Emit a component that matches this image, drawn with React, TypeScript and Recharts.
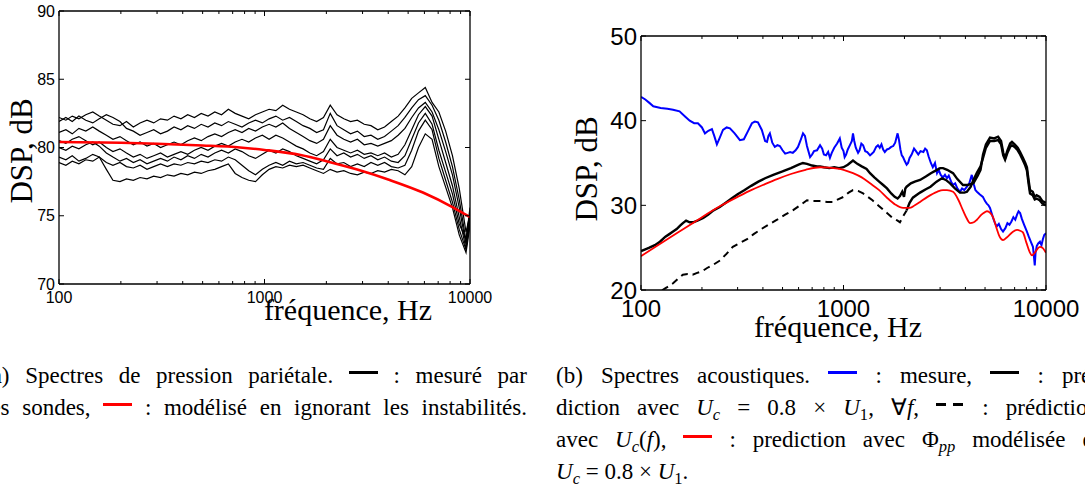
import React from 'react';
import { LineChart, Line, XAxis, YAxis } from 'recharts';

// ---------- (a) wall-pressure spectra ----------
const FREQ_A = [
  100, 108, 116, 125, 135, 146, 157, 170, 183, 198,
  213, 230, 248, 268, 289, 312, 337, 363, 392, 423,
  456, 492, 531, 573, 618, 667, 720, 777, 838, 904,
  976, 1053, 1136, 1226, 1323, 1428, 1541, 1662, 1794, 1936,
  2089, 2254, 2432, 2624, 2832, 3056, 3297, 3558, 3839, 4142,
  4470, 4823, 5204, 5615, 6059, 6538, 7055, 7612, 8214, 8863,
  9564, 10000,
];
const PROBE_1 = [
  82.2, 82.0, 82.3, 82.1, 82.4, 82.6, 82.3, 82.0, 81.7, 81.6,
  81.9, 81.5, 81.8, 82.0, 81.8, 82.1, 82.0, 82.3, 82.1, 82.4,
  82.2, 82.5, 82.3, 82.6, 82.4, 82.8, 82.5, 82.3, 82.1, 82.4,
  82.6, 82.8, 82.7, 83.1, 82.8, 82.6, 82.4, 82.1, 81.9, 82.2,
  83.1, 82.4, 82.1, 81.9, 82.0, 81.7, 81.6, 81.3, 81.5, 81.9,
  82.3, 82.9, 83.6, 84.0, 84.4, 83.3, 82.6, 81.2, 79.4, 77.0,
  73.8, 75.1,
];
const PROBE_2 = [
  81.9, 82.2, 81.9, 82.3, 82.0, 81.8, 82.1, 82.4, 82.2, 81.9,
  81.4, 81.2, 80.9, 81.1, 81.3, 81.0, 81.2, 81.5, 81.3, 81.6,
  81.4, 81.7, 81.5, 81.8, 81.6, 81.9, 81.7, 81.5, 81.8, 82.0,
  81.8, 82.1, 82.3, 82.0, 82.2, 81.9, 81.6, 81.4, 81.1, 81.3,
  82.5, 81.6, 81.3, 81.0, 81.2, 80.8, 80.9, 80.6, 80.8, 81.2,
  81.6, 82.2, 82.9, 83.5, 83.8, 83.1, 82.0, 80.4, 78.6, 76.2,
  73.2, 75.6,
];
const PROBE_3 = [
  81.1, 81.3, 81.0, 81.4, 81.2, 81.5, 81.2, 80.9, 80.6, 80.8,
  80.5, 80.2, 80.4, 80.1, 80.3, 80.0, 80.2, 80.4, 80.2, 80.5,
  80.7, 80.5, 80.8, 81.0, 80.8, 81.1, 81.3, 81.1, 81.4, 81.2,
  81.5, 81.7, 81.5, 81.8, 81.4, 81.1, 80.8, 80.5, 80.3, 80.6,
  81.6, 80.9, 80.6, 80.4, 80.6, 80.2, 80.3, 80.1, 80.3, 80.5,
  80.9, 81.4, 82.2, 82.9, 83.3, 82.6, 81.3, 79.7, 78.0, 75.6,
  72.9, 75.3,
];
const PROBE_4 = [
  80.5, 80.3, 80.6, 80.8, 80.5, 80.2, 80.4, 80.0, 79.7, 79.9,
  79.6, 79.3, 79.5, 79.2, 79.4, 79.6, 79.3, 79.5, 79.7, 79.5,
  79.8, 80.0, 79.8, 80.1, 80.3, 80.1, 80.4, 80.6, 80.4, 80.7,
  80.9, 80.6, 80.9, 80.7, 80.4, 80.1, 79.9, 79.6, 79.4, 79.7,
  80.6, 80.0, 79.8, 79.6, 79.8, 79.5, 79.6, 79.4, 79.6, 79.3,
  79.5, 80.2, 81.3, 82.4, 83.0, 82.3, 80.6, 78.9, 77.2, 74.9,
  72.6, 74.9,
];
const PROBE_5 = [
  80.0, 79.8, 80.1, 79.9, 80.2, 80.4, 80.1, 79.6, 79.3, 79.0,
  79.2, 78.9, 79.1, 78.8, 79.0, 79.2, 79.0, 79.3, 79.1, 79.4,
  79.2, 79.5, 79.3, 79.6, 79.8, 79.6, 79.9, 79.7, 79.4, 79.2,
  79.5, 79.8, 79.6, 79.9, 79.7, 79.4, 79.2, 79.0, 78.8, 79.1,
  79.9, 79.4, 79.6, 79.3, 79.5, 79.2, 79.4, 79.1, 79.3, 79.0,
  78.9, 79.4, 80.6, 81.8, 82.5, 81.7, 79.8, 78.2, 76.6, 74.4,
  73.3, 75.2,
];
const PROBE_6 = [
  79.3, 79.1, 79.4, 79.0, 79.2, 79.5, 79.3, 78.9, 78.7, 78.9,
  78.6, 78.5, 78.7, 78.4, 78.6, 78.8, 78.6, 78.8, 78.7, 78.9,
  78.8, 79.0, 78.9, 79.1, 79.0, 79.3, 79.1, 78.7, 78.3, 78.0,
  78.4, 78.7, 78.9, 78.7, 79.0, 78.8, 78.9, 78.7, 78.5, 78.4,
  79.2, 78.8, 78.9, 78.6, 78.8, 78.6, 78.9, 78.7, 78.9, 78.6,
  78.5, 78.7, 79.8, 81.2, 82.0, 81.3, 79.2, 77.6, 76.0, 74.0,
  72.5, 74.6,
];
const PROBE_7 = [
  78.9, 78.7, 79.0, 78.8, 79.1, 79.0, 79.3, 78.4, 77.6, 77.5,
  77.7, 77.6, 77.8, 77.7, 77.9, 77.8, 78.0, 77.9, 78.1, 78.0,
  78.2, 78.1, 78.3, 78.4, 78.6, 78.8, 78.1, 77.8, 77.6, 77.5,
  78.0, 78.4, 78.6, 78.5, 78.7, 78.6, 78.7, 78.5, 78.3, 78.1,
  78.4, 78.2, 78.3, 78.1, 78.0, 78.2, 78.1, 78.3, 78.2, 78.4,
  78.3, 78.0, 78.6, 80.0, 81.0, 80.6, 78.6, 77.1, 75.6, 73.6,
  72.3, 74.3,
];
const PROBES = [PROBE_1, PROBE_2, PROBE_3, PROBE_4, PROBE_5, PROBE_6, PROBE_7];

const MODEL_A: [number, number][] = [
  [100, 80.4], [200, 80.35], [300, 80.28], [500, 80.15], [760, 80.0], [1000, 79.82],
  [1500, 79.45], [2000, 79.0], [2800, 78.4], [4100, 77.6], [5900, 76.7], [8300, 75.6], [10000, 74.9],
];

// ---------- (b) acoustic spectra ----------
const MEASURED_B: [number, number][] = [
  [100, 42.8], [105, 42.5], [110, 42.1], [115, 41.7], [125, 41.5], [135, 41.4], [144, 41.3], [155, 41.1],
  [165, 40.5], [174, 40.0], [183, 39.7], [191, 39.7], [200, 39.2], [207, 38.5], [215, 38.8], [224, 39.0],
  [230, 38.2], [237, 37.2], [245, 38.0], [254, 38.9], [265, 39.2], [275, 39.1], [290, 38.5], [308, 37.7],
  [322, 37.8], [338, 38.8], [353, 39.7], [365, 39.9], [378, 39.8], [395, 38.9], [410, 37.6], [419, 37.5],
  [426, 38.2], [433, 38.5], [445, 37.4], [458, 36.9], [472, 37.1], [485, 37.0], [500, 36.5], [515, 36.1],
  [530, 36.2], [545, 36.3], [562, 36.2], [580, 36.5], [596, 36.9], [612, 37.6], [631, 38.5], [645, 38.2],
  [660, 37.0], [684, 35.7], [700, 36.0], [715, 36.4], [740, 36.5], [766, 37.1], [785, 36.7], [800, 36.0],
  [820, 35.9], [840, 36.3], [857, 35.6], [875, 36.2], [900, 36.8], [930, 37.3], [959, 37.9], [980, 36.8],
  [1000, 36.4], [1013, 35.7], [1030, 36.0], [1050, 36.6], [1080, 37.2], [1100, 37.6], [1114, 38.5], [1130, 37.6],
  [1150, 36.8], [1180, 36.2], [1200, 36.5], [1225, 37.3], [1250, 37.1], [1280, 36.4], [1310, 36.3], [1352, 35.9],
  [1380, 36.1], [1410, 36.3], [1450, 36.9], [1480, 37.1], [1510, 36.8], [1540, 37.2], [1570, 36.6], [1600, 36.3],
  [1640, 36.6], [1680, 36.7], [1720, 36.9], [1760, 37.0], [1800, 37.4], [1850, 38.5], [1880, 37.7], [1910, 36.6],
  [1940, 35.9], [1968, 35.7], [2010, 35.2], [2050, 34.8], [2083, 35.0], [2120, 35.6], [2170, 36.0], [2230, 36.7],
  [2280, 36.4], [2340, 36.0], [2400, 36.4], [2480, 36.3], [2530, 36.7], [2580, 36.5], [2630, 35.8], [2700, 35.0],
  [2760, 34.5], [2830, 35.0], [2896, 33.8], [2950, 34.2], [3020, 33.6], [3100, 33.3], [3170, 33.6], [3243, 33.2],
  [3310, 33.5], [3400, 32.8], [3475, 32.4], [3560, 32.6], [3650, 32.0], [3760, 31.6], [3850, 32.0], [3950, 31.8],
  [4070, 32.2], [4180, 32.6], [4300, 33.6], [4400, 32.5], [4480, 31.8], [4560, 31.6], [4700, 31.3], [4880, 31.0],
  [5000, 30.5], [5100, 30.2], [5200, 30.0], [5290, 29.7], [5400, 29.0], [5500, 28.4], [5600, 27.9], [5710, 27.5],
  [5850, 27.8], [6000, 27.2], [6134, 26.9], [6300, 27.3], [6450, 27.9], [6600, 27.7], [6750, 28.1], [6900, 28.6],
  [7050, 28.3], [7194, 28.9], [7320, 29.3], [7450, 29.1], [7600, 28.4], [7800, 27.7], [8050, 26.9], [8250, 26.2],
  [8450, 25.6], [8620, 25.1], [8700, 24.2], [8800, 22.9], [8880, 24.4], [9000, 25.2], [9150, 25.5], [9335, 25.7],
  [9500, 25.3], [9650, 26.0], [9800, 26.5], [10000, 26.7],
];

const PREDICTION_B: [number, number][] = [
  [100, 24.6], [105, 24.8], [110, 25.0], [117, 25.3], [124, 25.7], [132, 26.3], [138, 26.6], [144, 26.9],
  [150, 27.2], [156, 27.6], [161, 27.9], [167, 28.2], [174, 28.0], [181, 28.0], [190, 28.2], [203, 28.5],
  [215, 28.9], [228, 29.4], [245, 29.8], [262, 30.3], [280, 30.8], [300, 31.3], [325, 31.8], [350, 32.3],
  [380, 32.8], [410, 33.2], [450, 33.6], [500, 34.0], [550, 34.4], [600, 34.8], [630, 35.0], [660, 34.9],
  [700, 34.7], [740, 34.6], [766, 34.6], [800, 34.5], [850, 34.4], [900, 34.5], [950, 34.4], [1000, 34.5],
  [1050, 34.8], [1114, 35.3], [1170, 34.9], [1230, 34.6], [1300, 34.3], [1352, 33.8], [1420, 33.3], [1500, 32.8],
  [1570, 32.4], [1640, 32.0], [1720, 31.4], [1790, 31.0], [1850, 30.8], [1900, 31.1], [1950, 31.6], [1990, 31.0],
  [2020, 32.0], [2050, 32.2], [2150, 32.6], [2250, 32.8], [2388, 33.0], [2550, 33.4], [2700, 33.8], [2850, 34.1],
  [3000, 34.4], [3100, 34.4], [3250, 34.2], [3475, 33.8], [3650, 33.1], [3890, 32.4], [4100, 32.4], [4380, 32.6],
  [4600, 33.5], [4750, 34.2], [4887, 36.0], [5050, 37.2], [5290, 38.0], [5550, 37.9], [5800, 38.1], [6000, 37.6],
  [6150, 36.2], [6280, 35.6], [6450, 36.5], [6650, 37.3], [6790, 37.5], [7000, 37.2], [7250, 36.8], [7450, 36.3],
  [7700, 35.6], [7900, 35.0], [8050, 34.5], [8200, 33.0], [8340, 31.8], [8600, 31.6], [8800, 31.0], [8990, 31.2],
  [9300, 31.0], [9600, 30.5], [10000, 30.3],
];

const PREDICTION_UCF_LOW: [number, number][] = [
  [100, 18.6], [112, 19.2], [124, 19.8], [134, 20.3], [144, 20.8], [152, 21.3], [161, 21.8], [170, 21.9],
  [180, 21.8], [188, 22.0], [200, 22.2], [212, 22.6], [228, 23.0], [246, 23.5], [265, 24.3], [284, 25.1],
  [310, 25.6], [334, 26.0], [360, 26.6], [387, 27.1], [425, 27.7], [470, 28.3], [515, 28.9], [562, 29.4],
  [610, 30.0], [660, 30.6], [710, 30.5], [766, 30.5], [830, 30.4], [887, 30.4], [940, 30.7], [1000, 31.0],
  [1060, 31.5], [1114, 31.8], [1180, 31.7], [1250, 31.4], [1320, 31.0], [1390, 30.6], [1500, 29.9], [1640, 29.1],
  [1750, 28.5], [1850, 28.2], [1900, 28.0], [1980, 28.8], [2050, 29.4],
];

const PREDICTION_UCF_HIGH: [number, number][] = [
  [2050, 29.4], [2120, 30.3], [2200, 30.9], [2388, 31.5], [2550, 31.9], [2690, 32.2], [2880, 32.8], [3060, 33.2],
  [3200, 33.0], [3360, 32.6], [3550, 32.0], [3760, 31.5], [3950, 31.5], [4070, 31.6], [4250, 32.2], [4380, 33.0],
  [4550, 33.8], [4750, 34.6], [4887, 35.6], [5050, 36.8], [5290, 37.6], [5550, 37.6], [5800, 37.7], [6000, 37.2],
  [6150, 35.9], [6280, 35.4], [6450, 36.2], [6650, 36.9], [6790, 37.1], [7000, 36.9], [7250, 36.5], [7450, 36.0],
  [7700, 35.3], [7900, 34.7], [8050, 34.1], [8200, 32.6], [8340, 31.4], [8600, 31.2], [8800, 30.7], [8990, 30.8],
  [9300, 30.6], [9600, 30.2], [10000, 30.0],
];

const MODEL_B: [number, number][] = [
  [100, 24.0], [125, 25.5], [150, 26.7], [175, 27.7], [200, 28.6], [250, 30.0], [300, 31.0], [350, 31.8],
  [400, 32.4], [470, 33.1], [550, 33.7], [650, 34.2], [766, 34.5], [850, 34.45], [1000, 34.2], [1114, 33.8],
  [1230, 33.3], [1352, 32.6], [1500, 31.8], [1640, 30.9], [1800, 30.1], [1968, 29.7], [2130, 29.7], [2250, 30.0],
  [2388, 30.4], [2600, 31.0], [2896, 31.6], [3100, 31.8], [3243, 31.8], [3475, 31.6], [3700, 30.6], [3890, 29.4],
  [4050, 28.5], [4217, 27.9], [4400, 28.0], [4560, 28.3], [4800, 28.9], [5000, 29.2], [5113, 29.3], [5300, 29.1],
  [5473, 28.6], [5700, 27.3], [5900, 26.3], [6134, 25.9], [6400, 26.2], [6800, 26.8], [7194, 27.1], [7450, 27.0],
  [7691, 26.8], [8000, 25.6], [8300, 24.5], [8524, 24.1], [8800, 24.4], [9100, 24.9], [9335, 25.1], [9600, 25.0],
  [10000, 24.4],
];

// ---------- ticks ----------
const LOG_TICKS = [100, 200, 300, 400, 500, 600, 700, 800, 900, 1000, 2000, 3000, 4000, 5000, 6000, 7000, 8000, 9000, 10000];
const MAJOR_X = [100, 1000, 10000];
const Y_TICKS_A = [70, 75, 80, 85, 90];
const Y_TICKS_B = [20, 30, 40, 50];

const SANS = '"Liberation Sans", Arial, Helvetica, sans-serif';
const SERIF = '"Liberation Serif", "Times New Roman", serif';

const toRows = (pairs: [number, number][]) => pairs.map(([f, v]) => ({ f, v }));

const xTick = (dir: number, fontSize: number, labelDy: number, showLabel: boolean) => (props: any) => {
  const { x, y, payload } = props;
  const major = MAJOR_X.includes(payload.value);
  const len = major ? 5 : 3;
  return (
    <g>
      <line x1={x} x2={x} y1={y} y2={y - dir * len} stroke="#000" strokeWidth={1} />
      {showLabel && major ? (
        <text x={x} y={y + labelDy} textAnchor="middle" dominantBaseline="central" fontFamily={SANS} fontSize={fontSize} fill="#000">
          {payload.value}
        </text>
      ) : null}
    </g>
  );
};

const yTick = (dir: number, fontSize: number, showLabel: boolean) => (props: any) => {
  const { x, y, payload } = props;
  return (
    <g>
      <line x1={x} x2={x + dir * 5} y1={y} y2={y} stroke="#000" strokeWidth={1} />
      {showLabel ? (
        <text x={x - 4} y={y} textAnchor="end" dominantBaseline="central" fontFamily={SANS} fontSize={fontSize} fill="#000">
          {payload.value}
        </text>
      ) : null}
    </g>
  );
};

const AXIS_LINE = { stroke: '#000', strokeWidth: 1.3 };

function ChartA() {
  return (
    <LineChart width={540} height={340} margin={{ top: 10, left: 58, right: 69, bottom: 55 }}>
      <XAxis dataKey="f" type="number" scale="log" domain={[100, 10000]} allowDataOverflow ticks={LOG_TICKS} interval={0}
        height={1} tickSize={0} tickMargin={0} tickLine={false} axisLine={AXIS_LINE} tick={xTick(1, 16, 13, true)} />
      <XAxis xAxisId="t" orientation="top" dataKey="f" type="number" scale="log" domain={[100, 10000]} allowDataOverflow ticks={LOG_TICKS} interval={0}
        height={1} tickSize={0} tickMargin={0} tickLine={false} axisLine={AXIS_LINE} tick={xTick(-1, 16, 0, false)} />
      <YAxis type="number" domain={[70, 90]} allowDataOverflow ticks={Y_TICKS_A} interval={0}
        width={1} tickSize={0} tickMargin={0} tickLine={false} axisLine={AXIS_LINE} tick={yTick(1, 16, true)} />
      <YAxis yAxisId="r" orientation="right" type="number" domain={[70, 90]} allowDataOverflow ticks={Y_TICKS_A} interval={0}
        width={1} tickSize={0} tickMargin={0} tickLine={false} axisLine={AXIS_LINE} tick={yTick(-1, 16, false)} />
      {PROBES.map((vals, k) => (
        <Line key={'p' + k} data={FREQ_A.map((f, i) => ({ f, v: vals[i] }))} dataKey="v" type="linear"
          stroke="#000" strokeWidth={1.2} dot={false} activeDot={false} isAnimationActive={false} />
      ))}
      <Line data={toRows(MODEL_A)} dataKey="v" type="monotone" stroke="#ff0000" strokeWidth={2.6}
        dot={false} activeDot={false} isAnimationActive={false} />
    </LineChart>
  );
}

function ChartB() {
  return (
    <LineChart width={545} height={340} margin={{ top: 35, left: 100, right: 38, bottom: 49 }}>
      <XAxis dataKey="f" type="number" scale="log" domain={[100, 10000]} allowDataOverflow ticks={LOG_TICKS} interval={0}
        height={1} tickSize={0} tickMargin={0} tickLine={false} axisLine={AXIS_LINE} tick={xTick(1, 24, 18, true)} />
      <XAxis xAxisId="t" orientation="top" dataKey="f" type="number" scale="log" domain={[100, 10000]} allowDataOverflow ticks={LOG_TICKS} interval={0}
        height={1} tickSize={0} tickMargin={0} tickLine={false} axisLine={AXIS_LINE} tick={xTick(-1, 24, 0, false)} />
      <YAxis type="number" domain={[20, 50]} allowDataOverflow ticks={Y_TICKS_B} interval={0}
        width={1} tickSize={0} tickMargin={0} tickLine={false} axisLine={AXIS_LINE} tick={yTick(1, 24, true)} />
      <YAxis yAxisId="r" orientation="right" type="number" domain={[20, 50]} allowDataOverflow ticks={Y_TICKS_B} interval={0}
        width={1} tickSize={0} tickMargin={0} tickLine={false} axisLine={AXIS_LINE} tick={yTick(-1, 24, false)} />
      <Line data={toRows(MEASURED_B)} dataKey="v" type="linear" stroke="#0000ff" strokeWidth={2}
        dot={false} activeDot={false} isAnimationActive={false} />
      <Line data={toRows(PREDICTION_UCF_LOW)} dataKey="v" type="linear" stroke="#000" strokeWidth={2} strokeDasharray="7 5"
        dot={false} activeDot={false} isAnimationActive={false} />
      <Line data={toRows(PREDICTION_UCF_HIGH)} dataKey="v" type="linear" stroke="#000" strokeWidth={2.4}
        dot={false} activeDot={false} isAnimationActive={false} />
      <Line data={toRows(PREDICTION_B)} dataKey="v" type="linear" stroke="#000" strokeWidth={2.4}
        dot={false} activeDot={false} isAnimationActive={false} />
      <Line data={toRows(MODEL_B)} dataKey="v" type="monotone" stroke="#ff0000" strokeWidth={1.8}
        dot={false} activeDot={false} isAnimationActive={false} />
    </LineChart>
  );
}

const bar = (color: string, width = 29) => (
  <span style={{ display: 'inline-block', width, height: 3, background: color, position: 'relative', top: -9 }} />
);
const dashBar = () => (
  <span style={{ display: 'inline-block', width: 29, height: 3, position: 'relative', top: -9 }}>
    <span style={{ position: 'absolute', left: 0, top: 0, width: 10, height: 3, background: '#000' }} />
    <span style={{ position: 'absolute', left: 17, top: 0, width: 10, height: 3, background: '#000' }} />
  </span>
);
const sub = (t: React.ReactNode) => (
  <span style={{ fontSize: '0.72em', position: 'relative', top: '0.28em', lineHeight: 1 }}>{t}</span>
);
const Uc = () => (<><i>U</i>{sub(<i>c</i>)}</>);
const U1 = () => (<><i>U</i>{sub('1')}</>);

const lineBase: React.CSSProperties = {
  width: 543, height: 32, textAlign: 'justify', textAlignLast: 'justify' as any, whiteSpace: 'normal', overflow: 'visible',
};
const capBlock: React.CSSProperties = {
  position: 'absolute', top: 360, fontFamily: SERIF, fontSize: 23, lineHeight: '32px', color: '#000',
};

export default function App() {
  return (
    <div style={{ position: 'absolute', left: 0, top: 0, width: 1085, height: 488, overflow: 'hidden', background: '#fff' }}>
      <div style={{ position: 'absolute', left: 0, top: 0 }}>
        <ChartA />
      </div>
      <div style={{ position: 'absolute', left: 540, top: 0 }}>
        <ChartB />
      </div>
      <svg width={1085} height={488} style={{ position: 'absolute', left: 0, top: 0, pointerEvents: 'none' }}>
        <text transform="translate(32,151) rotate(-90)" textAnchor="middle" fontFamily={SERIF} fontSize={31} fill="#000">DSP, dB</text>
        <text x={348} y={320} textAnchor="middle" fontFamily={SERIF} fontSize={30} fill="#000">fréquence, Hz</text>
        <text transform="translate(597,169) rotate(-90)" textAnchor="middle" fontFamily={SERIF} fontSize={31} fill="#000">DSP, dB</text>
        <text x={838} y={337} textAnchor="middle" fontFamily={SERIF} fontSize={30} fill="#000">fréquence, Hz</text>
      </svg>
      <div style={{ ...capBlock, left: -16 }}>
        <div style={lineBase}>(a) Spectres de pression pariétale. {bar('#000')} : mesuré par</div>
        <div style={lineBase}>les sondes, {bar('#ff0000')} : modélisé en ignorant les instabilités.</div>
      </div>
      <div style={{ ...capBlock, left: 556 }}>
        <div style={lineBase}>(b) Spectres acoustiques. {bar('#0000ff')} : mesure, {bar('#000')} : pré-</div>
        <div style={lineBase}>diction avec <Uc /> = 0.8 × <U1 />, ∀<i>f</i>, {dashBar()} : prédiction</div>
        <div style={lineBase}>avec <Uc />(<i>f</i>), {bar('#ff0000')} : prediction avec Φ{sub(<i>pp</i>)} modélisée et</div>
        <div style={{ ...lineBase, textAlignLast: 'left' as any, textAlign: 'left' }}><Uc /> = 0.8 × <U1 />.</div>
      </div>
    </div>
  );
}
